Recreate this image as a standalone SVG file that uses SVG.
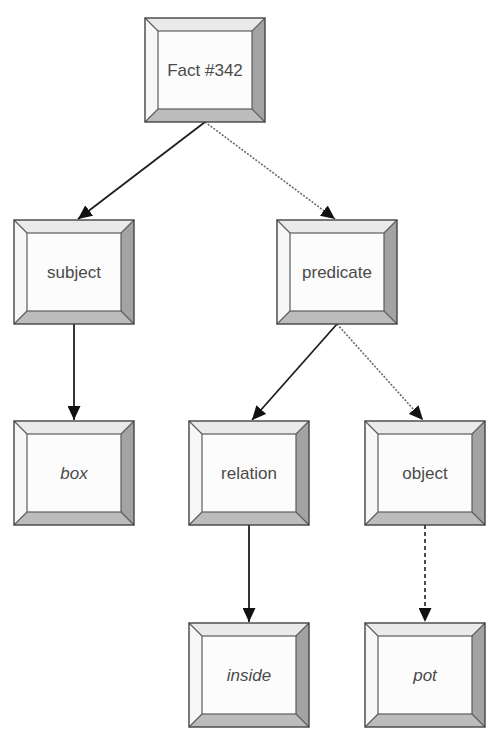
<svg xmlns="http://www.w3.org/2000/svg" xmlns:xlink="http://www.w3.org/1999/xlink" width="489" height="741" viewBox="0 0 489 741">
  <style>
    .lbl { font-family: "Liberation Sans", Arial, sans-serif; font-size: 17px; fill: #4a4a4a; text-anchor: middle; }
    .it { font-style: italic; }
    .solid { stroke: #1e1e1e; stroke-width: 1.8; fill: none; }
    .dotted { stroke: #6a6a6a; stroke-width: 1.6; stroke-dasharray: 2 1.5; fill: none; }
    .dashed { stroke: #3a3a3a; stroke-width: 1.8; stroke-dasharray: 4 3; fill: none; }
  </style>
  <defs>
    <marker id="head" markerUnits="userSpaceOnUse" markerWidth="15" markerHeight="13" refX="14" refY="6.5" orient="auto">
      <path d="M0,0 L14,6.5 L0,13 Z" fill="#111"/>
    </marker>
    <!-- bevelled frame shared by every node -->
    <symbol id="frame" overflow="visible">
      <rect x="0" y="0" width="120" height="104" fill="#f4f4f4"/>
      <polygon points="0,0 120,0 107,13 13,13" fill="#eaeaea"/>
      <polygon points="0,0 13,13 13,91 0,104" fill="#f7f7f7"/>
      <polygon points="120,0 120,104 107,91 107,13" fill="#a3a3a3"/>
      <polygon points="0,104 13,91 107,91 120,104" fill="#bcbcbc"/>
      <rect x="13" y="13" width="94" height="78" fill="#fcfcfc" stroke="#5c5c5c" stroke-width="1.2"/>
      <path d="M0,0 L13,13 M120,0 L107,13 M0,104 L13,91 M120,104 L107,91" stroke="#5c5c5c" stroke-width="1.2"/>
      <rect x="0" y="0" width="120" height="104" fill="none" stroke="#444" stroke-width="1.4"/>
    </symbol>
  </defs>
  <rect width="489" height="741" fill="#fff"/>

  <g id="connectors">
    <line class="solid" x1="205" y1="122" x2="78" y2="219" marker-end="url(#head)"/>
    <line class="dotted" x1="205" y1="122" x2="335" y2="219" marker-end="url(#head)"/>
    <line class="solid" x1="74" y1="324" x2="74" y2="420" marker-end="url(#head)"/>
    <line class="solid" x1="337" y1="324" x2="252" y2="420" marker-end="url(#head)"/>
    <line class="dotted" x1="337" y1="324" x2="423" y2="420" marker-end="url(#head)"/>
    <line class="solid" x1="249" y1="525" x2="249" y2="622" marker-end="url(#head)"/>
    <line class="dashed" x1="425" y1="525" x2="425" y2="622" marker-end="url(#head)"/>
  </g>

  <g id="fact" transform="translate(145,18)">
    <use xlink:href="#frame"/>
    <text class="lbl" x="60" y="58">Fact #342</text>
  </g>
  <g id="subject" transform="translate(14,220)">
    <use xlink:href="#frame"/>
    <text class="lbl" x="60" y="58">subject</text>
  </g>
  <g id="predicate" transform="translate(277,220)">
    <use xlink:href="#frame"/>
    <text class="lbl" x="60" y="58">predicate</text>
  </g>
  <g id="box" transform="translate(14,421)">
    <use xlink:href="#frame"/>
    <text class="lbl it" x="60" y="58">box</text>
  </g>
  <g id="relation" transform="translate(189,421)">
    <use xlink:href="#frame"/>
    <text class="lbl" x="60" y="58">relation</text>
  </g>
  <g id="object" transform="translate(365,421)">
    <use xlink:href="#frame"/>
    <text class="lbl" x="60" y="58">object</text>
  </g>
  <g id="inside" transform="translate(189,623)">
    <use xlink:href="#frame"/>
    <text class="lbl it" x="60" y="58">inside</text>
  </g>
  <g id="pot" transform="translate(365,623)">
    <use xlink:href="#frame"/>
    <text class="lbl it" x="60" y="58">pot</text>
  </g>
</svg>
